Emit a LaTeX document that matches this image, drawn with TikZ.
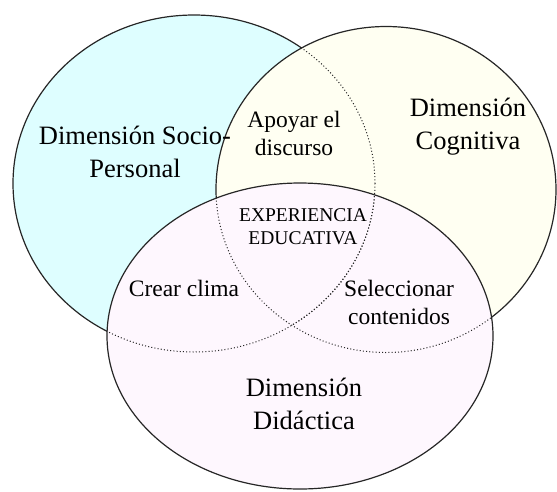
\documentclass[tikz,border=0pt]{standalone}
\usepackage{fontspec}
\setmainfont{Liberation Serif}
\definecolor{lfill}{RGB}{222,254,255}
\definecolor{rfill}{RGB}{255,255,242}
\definecolor{bfill}{RGB}{254,247,254}
\begin{document}
\begin{tikzpicture}[x=1pt,y=-1pt,
  outline/.style={draw=black!85,line width=1.2pt},
  hidden/.style={draw=black!85,line width=1pt,dash pattern=on 1pt off 2.2pt},
  big/.style={font=\fontsize{26.5}{33}\selectfont,align=center,inner sep=0pt},
  mid/.style={font=\fontsize{23.5}{28}\selectfont,align=center,inner sep=0pt},
  small/.style={font=\fontsize{19.5}{23}\selectfont,align=center,inner sep=0pt}]
\useasboundingbox (0,0) rectangle (557,491);
\coordinate (L) at (194,183.5);
\coordinate (R) at (386,189.5);
\coordinate (B) at (300,336);
% fills and visible outlines
\fill[lfill] (L) ellipse [x radius=181pt, y radius=168.5pt];
\draw[outline] (L) ellipse [x radius=181pt, y radius=168.5pt];
\fill[rfill] (R) ellipse [x radius=170pt, y radius=163pt];
\draw[outline] (R) ellipse [x radius=170pt, y radius=163pt];
\fill[bfill] (B) ellipse [x radius=193pt, y radius=153pt];
\draw[outline] (B) ellipse [x radius=193pt, y radius=153pt];
% hidden outlines
\begin{scope}
  \clip (R) ellipse [x radius=170pt, y radius=163pt];
  \draw[hidden] (L) ellipse [x radius=181pt, y radius=168.5pt];
\end{scope}
\begin{scope}
  \clip (B) ellipse [x radius=193pt, y radius=153pt];
  \draw[hidden] (L) ellipse [x radius=181pt, y radius=168.5pt];
\end{scope}
\begin{scope}
  \clip (B) ellipse [x radius=193pt, y radius=153pt];
  \draw[hidden] (R) ellipse [x radius=170pt, y radius=163pt];
\end{scope}
% labels
\node[big] (socio) at (135,152) {Dimensión Socio-\\Personal};
\node[big] (cogn) at (468,127) {Dimensión\\Cognitiva};
\node[big] (dida) at (304,404) {Dimensión\\Didáctica};
\node[mid] (apoyar) at (294,133) {Apoyar el\\discurso};
\node[small] (exp) at (303,227) {EXPERIENCIA\\EDUCATIVA};
\node[mid] (clima) at (184,288) {Crear clima};
\node[mid] (selec) at (399,302) {Seleccionar\\contenidos};
\end{tikzpicture}
\end{document}
